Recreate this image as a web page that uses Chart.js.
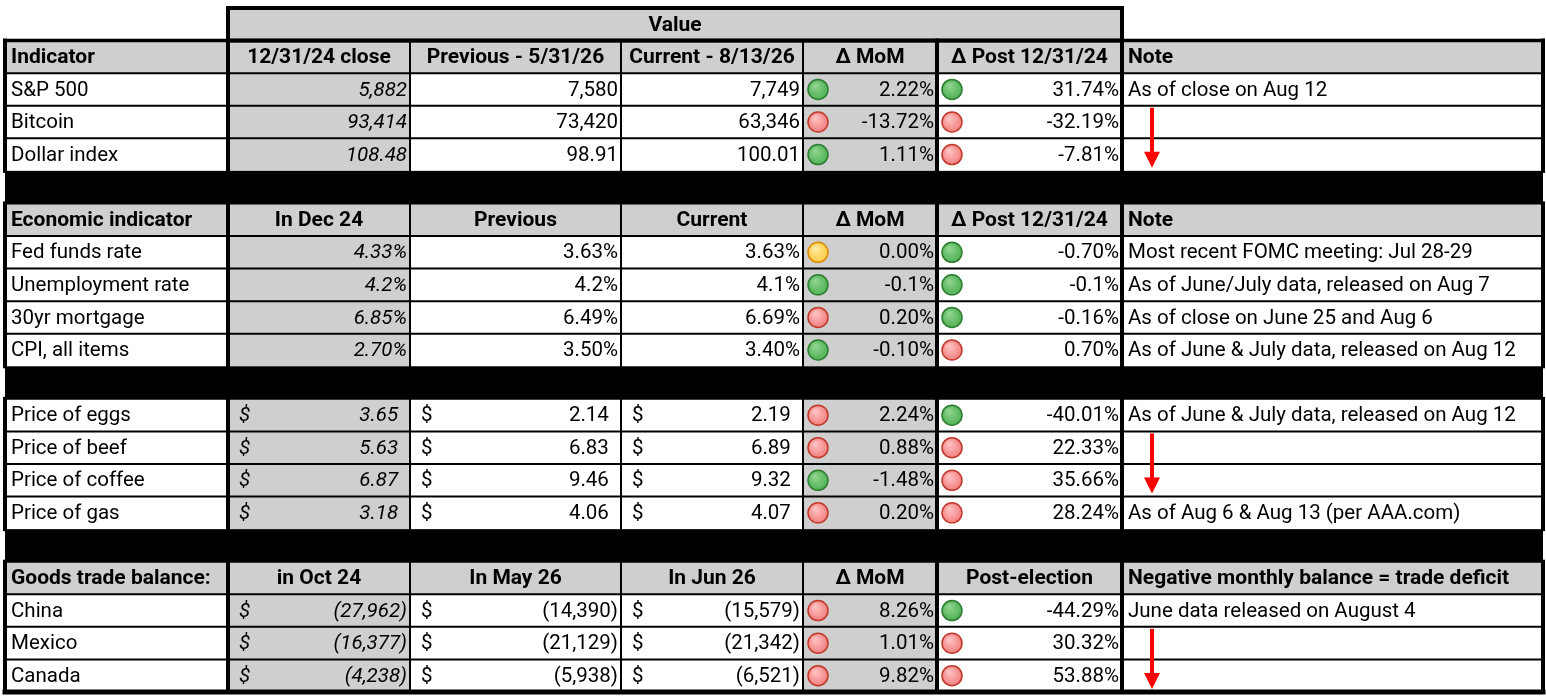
<!DOCTYPE html>
<html>
<head>
<meta charset="utf-8">
<script src="https://cdn.jsdelivr.net/npm/chart.js@4.4.1/dist/chart.umd.min.js"></script>
<style>
  html, body { margin: 0; background: #fff; }
  #wrap { width: 1546px; height: 698px; }
</style>
</head>
<body>
<div id="wrap"><canvas id="table"></canvas></div>
<script>
// ---- data ----
const valueTitle = "Value";

const marketHeaders = ["Indicator", "12/31/24 close", "Previous - 5/31/26", "Current - 8/13/26", "Δ MoM", "Δ Post 12/31/24", "Note"];
const marketNames = ["S&P 500", "Bitcoin", "Dollar index"];
const marketBase = [5882, 93414, 108.48];
const marketPrev = [7580, 73420, 98.91];
const marketCurr = [7749, 63346, 100.01];
const marketDecimals = [0, 0, 2];
const marketMom = [2.22, -13.72, 1.11];
const marketPost = [31.74, -32.19, -7.81];
const marketMomStatus = ["green", "red", "green"];
const marketPostStatus = ["green", "red", "red"];
const marketNotes = ["As of close on Aug 12", "", ""];

const econHeaders = ["Economic indicator", "In Dec 24", "Previous", "Current", "Δ MoM", "Δ Post 12/31/24", "Note"];
const econNames = ["Fed funds rate", "Unemployment rate", "30yr mortgage", "CPI, all items"];
const econBase = [4.33, 4.2, 6.85, 2.70];
const econPrev = [3.63, 4.2, 6.49, 3.50];
const econCurr = [3.63, 4.1, 6.69, 3.40];
const econDecimals = [2, 1, 2, 2];
const econMom = [0.00, -0.1, 0.20, -0.10];
const econPost = [-0.70, -0.1, -0.16, 0.70];
const econMomStatus = ["yellow", "green", "red", "green"];
const econPostStatus = ["green", "green", "green", "red"];
const econNotes = [
  "Most recent FOMC meeting: Jul 28-29",
  "As of June/July data, released on Aug 7",
  "As of close on June 25 and Aug 6",
  "As of June & July data, released on Aug 12"
];

const priceNames = ["Price of eggs", "Price of beef", "Price of coffee", "Price of gas"];
const priceBase = [3.65, 5.63, 6.87, 3.18];
const pricePrev = [2.14, 6.83, 9.46, 4.06];
const priceCurr = [2.19, 6.89, 9.32, 4.07];
const priceMom = [2.24, 0.88, -1.48, 0.20];
const pricePost = [-40.01, 22.33, 35.66, 28.24];
const priceMomStatus = ["red", "red", "green", "red"];
const pricePostStatus = ["green", "red", "red", "red"];
const priceNotes = ["As of June & July data, released on Aug 12", "", "", "As of Aug 6 & Aug 13 (per AAA.com)"];

const tradeHeaders = ["Goods trade balance:", "in Oct 24", "In May 26", "In Jun 26", "Δ MoM", "Post-election", "Negative monthly balance = trade deficit"];
const tradeNames = ["China", "Mexico", "Canada"];
const tradeBase = [-27962, -16377, -4238];
const tradePrev = [-14390, -21129, -5938];
const tradeCurr = [-15579, -21342, -6521];
const tradeMom = [8.26, 1.01, 9.82];
const tradePost = [-44.29, 30.32, 53.88];
const tradeMomStatus = ["red", "red", "red"];
const tradePostStatus = ["green", "red", "red"];
const tradeNotes = ["June data released on August 4", "", ""];

// red arrows in the note column: first row to last row they cover
const noteArrows = [[3, 4], [13, 14], [19, 20]];

// ---- layout / style ----
const colEdges = [5, 228, 410, 621, 803, 937, 1122, 1543];
const thickEdges = [0, 1, 5, 6, 7];
const GREY = "#cfcfcf";
const FONT = '"Roboto", "Liberation Sans", sans-serif';
const FONT_PX = 20.5;
const BOLD_PX = 21;
const statusColors = {
  green: ["#8fd48f", "#4caf50", "#2e7d32"],
  red: ["#ffc0c0", "#f07b7b", "#c0392b"],
  yellow: ["#ffe9a0", "#ffc83d", "#e08a00"]
};

// ---- build rows ----
const rows = [{ type: "value" }];

function num(v, d) {
  return v.toLocaleString("en-US", { minimumFractionDigits: d, maximumFractionDigits: d });
}
function pct(v, d) {
  return v.toFixed(d) + "%";
}
function acct(v, d) {
  return v < 0 ? "(" + num(-v, d) + ")" : num(v, d);
}

function addSection(headers, names, cols, notes, momS, postS) {
  if (headers) rows.push({ type: "header", cells: headers });
  names.forEach((n, i) => {
    rows.push({
      type: "data",
      cells: [n].concat(cols.map(c => c(i))).concat([notes[i]]),
      acct: cols.acct || false,
      status: [momS[i], postS[i]]
    });
  });
}

let cols = [
  i => num(marketBase[i], marketDecimals[i]),
  i => num(marketPrev[i], marketDecimals[i]),
  i => num(marketCurr[i], marketDecimals[i]),
  i => pct(marketMom[i], 2),
  i => pct(marketPost[i], 2)
];
addSection(marketHeaders, marketNames, cols, marketNotes, marketMomStatus, marketPostStatus);
rows.push({ type: "band" });

cols = [
  i => pct(econBase[i], econDecimals[i]),
  i => pct(econPrev[i], econDecimals[i]),
  i => pct(econCurr[i], econDecimals[i]),
  i => pct(econMom[i], econDecimals[i]),
  i => pct(econPost[i], econDecimals[i])
];
addSection(econHeaders, econNames, cols, econNotes, econMomStatus, econPostStatus);
rows.push({ type: "band" });

cols = [
  i => acct(priceBase[i], 2),
  i => acct(pricePrev[i], 2),
  i => acct(priceCurr[i], 2),
  i => pct(priceMom[i], 2),
  i => pct(pricePost[i], 2)
];
cols.acct = true;
addSection(null, priceNames, cols, priceNotes, priceMomStatus, pricePostStatus);
rows.push({ type: "band" });

cols = [
  i => acct(tradeBase[i], 0),
  i => acct(tradePrev[i], 0),
  i => acct(tradeCurr[i], 0),
  i => pct(tradeMom[i], 2),
  i => pct(tradePost[i], 2)
];
cols.acct = true;
addSection(tradeHeaders, tradeNames, cols, tradeNotes, tradeMomStatus, tradePostStatus);

// status circles as scatter points
const circlePoints = [];
rows.forEach((r, i) => {
  if (r.type !== "data") return;
  circlePoints.push({ x: colEdges[4] + 15, y: i + 0.5, s: r.status[0] });
  circlePoints.push({ x: colEdges[5] + 15, y: i + 0.5, s: r.status[1] });
});

// ---- table drawing plugin ----
const tablePlugin = {
  id: "table",
  beforeDatasetsDraw(chart) {
    const ctx = chart.ctx;
    const xs = chart.scales.x, ys = chart.scales.y;
    const X = e => xs.getPixelForValue(colEdges[e]);
    const Y = r => ys.getPixelForValue(r);
    const left = X(0), right = X(7);

    ctx.save();
    // backgrounds
    rows.forEach((r, i) => {
      const top = Y(i), h = Y(i + 1) - top;
      if (r.type === "band") {
        ctx.fillStyle = "#000";
        ctx.fillRect(left, top, right - left, h);
      } else if (r.type === "value") {
        ctx.fillStyle = GREY;
        ctx.fillRect(X(1), top, X(6) - X(1), h);
      } else if (r.type === "header") {
        ctx.fillStyle = GREY;
        ctx.fillRect(left, top, right - left, h);
      } else {
        ctx.fillStyle = GREY;
        ctx.fillRect(X(1), top, X(2) - X(1), h);
        ctx.fillRect(X(4), top, X(5) - X(4), h);
      }
    });

    // grid lines
    ctx.strokeStyle = "#000";
    ctx.lineCap = "square";
    const line = (x1, y1, x2, y2, w) => {
      ctx.lineWidth = w;
      ctx.beginPath();
      ctx.moveTo(x1, y1);
      ctx.lineTo(x2, y2);
      ctx.stroke();
    };
    rows.forEach((r, i) => {
      if (r.type === "value" || r.type === "band") return;
      const top = Y(i), bot = Y(i + 1);
      line(left, top, right, top, 2);
      for (let e = 0; e < colEdges.length; e++) {
        line(X(e), top, X(e), bot, thickEdges.includes(e) ? 4 : 2);
      }
    });
    line(left, Y(1), right, Y(1), 3.5);
    line(left, Y(rows.length), right, Y(rows.length), 5);
    // "Value" box
    ctx.lineWidth = 4;
    ctx.strokeRect(X(1), Y(0), X(6) - X(1), Y(1) - Y(0));

    // texts
    ctx.fillStyle = "#000";
    ctx.textBaseline = "middle";
    const font = (bold, italic) => (italic ? "italic " : "") + (bold ? "bold " + BOLD_PX : FONT_PX) + "px " + FONT;
    const text = (s, x, y, align, bold, italic) => {
      ctx.font = font(bold, italic);
      ctx.textAlign = align;
      ctx.fillText(s, x, y);
    };
    rows.forEach((r, i) => {
      const cy = (Y(i) + Y(i + 1)) / 2 + 1;
      if (r.type === "value") {
        text(valueTitle, (X(1) + X(6)) / 2, cy, "center", true, false);
      } else if (r.type === "header") {
        r.cells.forEach((c, k) => {
          if (k === 0 || k === 6) text(c, X(k) + 6, cy, "left", true, false);
          else text(c, (X(k) + X(k + 1)) / 2, cy, "center", true, false);
        });
      } else if (r.type === "data") {
        r.cells.forEach((c, k) => {
          if (k === 0 || k === 6) {
            if (c) text(c, X(k) + 6, cy, "left", false, false);
            return;
          }
          const italic = k === 1;
          let rx = X(k + 1) - 3;
          if (r.acct && k <= 3) {
            text("$", X(k) + 11, cy, "left", false, italic);
            if (c.charAt(0) !== "(") {
              ctx.font = font(false, italic);
              rx -= ctx.measureText(")").width + 2;
            }
          }
          text(c, rx, cy, "right", false, italic);
        });
      }
    });
    ctx.restore();
  },
  afterDatasetsDraw(chart) {
    const ctx = chart.ctx;
    const xs = chart.scales.x, ys = chart.scales.y;
    const ax = xs.getPixelForValue(colEdges[6]) + 30;
    ctx.save();
    ctx.fillStyle = "#ff0000";
    ctx.strokeStyle = "#ff0000";
    noteArrows.forEach(([a, b]) => {
      const y1 = ys.getPixelForValue(a) + 2;
      const y2 = ys.getPixelForValue(b + 1) - 3;
      ctx.lineWidth = 4;
      ctx.beginPath();
      ctx.moveTo(ax, y1);
      ctx.lineTo(ax, y2 - 14);
      ctx.stroke();
      ctx.beginPath();
      ctx.moveTo(ax - 8, y2 - 16);
      ctx.lineTo(ax + 8, y2 - 16);
      ctx.lineTo(ax, y2);
      ctx.closePath();
      ctx.fill();
    });
    ctx.restore();
  }
};

function circleFill(c) {
  const raw = c.raw;
  if (!raw || !c.element) return "#999";
  const col = statusColors[raw.s];
  const { x, y } = c.element.getProps(["x", "y"], true);
  if (!isFinite(x) || !isFinite(y)) return col[1];
  const g = c.chart.ctx.createRadialGradient(x - 3, y - 4, 1, x, y, 11);
  g.addColorStop(0, col[0]);
  g.addColorStop(1, col[1]);
  return g;
}

new Chart(document.getElementById("table"), {
  type: "scatter",
  data: {
    datasets: [{
      data: circlePoints,
      pointRadius: 10,
      pointBorderWidth: 1.5,
      backgroundColor: circleFill,
      borderColor: c => (c.raw ? statusColors[c.raw.s][2] : "#000")
    }]
  },
  options: {
    responsive: true,
    maintainAspectRatio: false,
    animation: false,
    events: [],
    layout: { autoPadding: false, padding: { top: 8, bottom: 6, left: 0, right: 0 } },
    scales: {
      x: { type: "linear", min: 0, max: 1546, display: false },
      y: { type: "linear", min: 0, max: rows.length, reverse: true, display: false }
    },
    plugins: { legend: { display: false }, tooltip: { enabled: false } }
  },
  plugins: [tablePlugin]
});
</script>
</body>
</html>
